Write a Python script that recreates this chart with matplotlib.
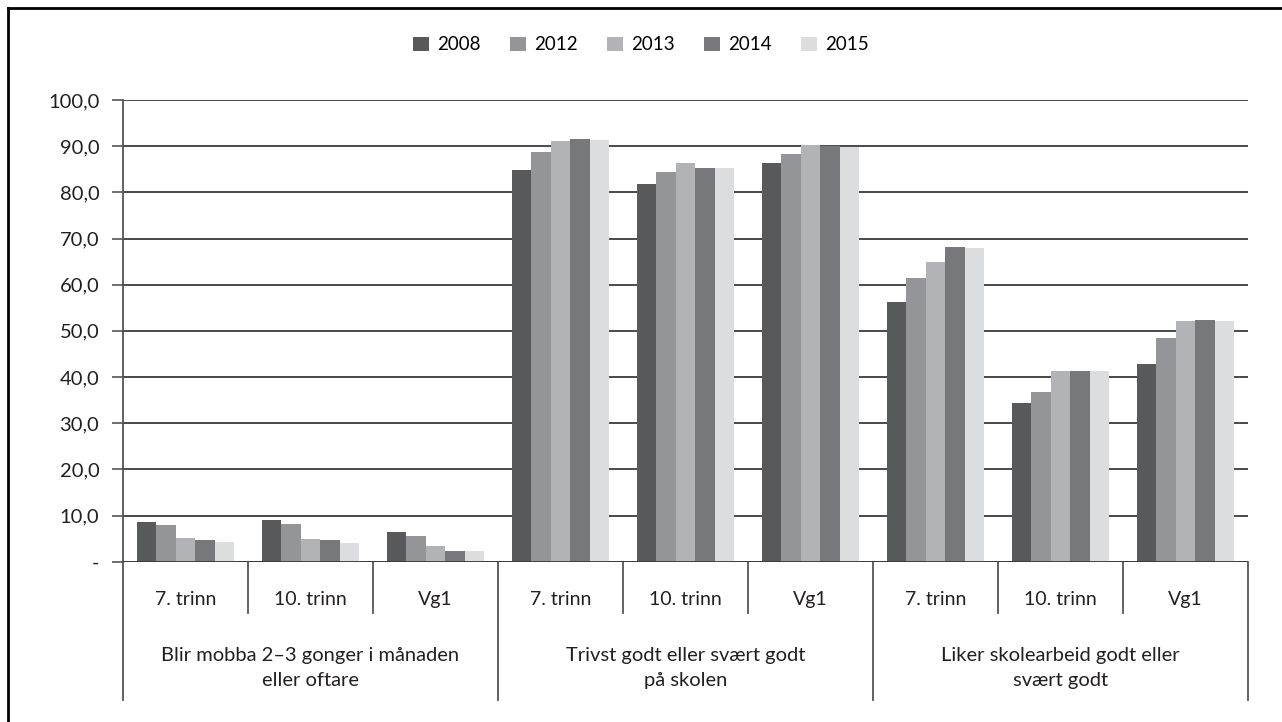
import matplotlib
matplotlib.use("Agg")
import matplotlib.pyplot as plt
import numpy as np
from matplotlib.lines import Line2D
from matplotlib.patches import Patch

plt.rcParams['font.family'] = ['Lato', 'DejaVu Sans']

# Data
years = ["2008", "2012", "2013", "2014", "2015"]
sub_labels = ["7. trinn", "10. trinn", "Vg1"] * 3
group_labels = ["Blir mobba 2\u20133 gonger i månaden\neller oftare",
                "Trivst godt eller svært godt\npå skolen",
                "Liker skolearbeid godt eller\nsvært godt"]
v2008 = [8.7, 9.1, 6.5, 84.9, 81.7, 86.4, 56.3, 34.3, 42.9]
v2012 = [8.0, 8.2, 5.6, 88.8, 84.5, 88.4, 61.4, 36.8, 48.5]
v2013 = [5.2, 5.0, 3.5, 91.2, 86.4, 90.2, 64.9, 41.4, 52.2]
v2014 = [4.8, 4.6, 2.4, 91.6, 85.3, 90.0, 68.2, 41.4, 52.4]
v2015 = [4.3, 4.1, 2.4, 91.4, 85.3, 89.8, 68.0, 41.4, 52.2]
series = [v2008, v2012, v2013, v2014, v2015]
colors = ["#58595b", "#939598", "#b1b3b6", "#77787b", "#dcdddf"]

fig = plt.figure(figsize=(12.82, 7.22), dpi=100)
ax = fig.add_axes([0.0959, 0.222, 0.8777, 0.6395])

x = np.arange(len(sub_labels))
w = 0.156
for i, (vals, c) in enumerate(zip(series, colors)):
    ax.bar(x + (i - 2) * w, vals, width=w, color=c, label=years[i], zorder=3)

ax.set_xlim(-0.5, 8.5)
ax.set_ylim(0, 100)
ax.set_yticks(np.arange(0, 101, 10))
ax.set_yticklabels(["-"] + ["%d,0" % v for v in range(10, 101, 10)])
ax.tick_params(axis='y', length=8, width=1.2, color="#555555", labelsize=14.5,
               pad=9, labelcolor="#231f20")
ax.set_xticks([])
for s in ["top", "right", "bottom", "left"]:
    ax.spines[s].set_visible(False)
ax.yaxis.grid(True, color="#3a3a3a", linewidth=1.3, zorder=1)
ax.axhline(0, color="#3a3a3a", linewidth=1.3, zorder=4)

# category separators and labels
h = 461.7
tr = ax.get_xaxis_transform()
for k in range(10):
    xs = k - 0.5
    depth = 138 if k % 3 == 0 else 51
    ax.add_line(Line2D([xs, xs], [0, -depth / h], transform=tr, color="#555555",
                       linewidth=1.3, clip_on=False))
ax.add_line(Line2D([-0.5, -0.5], [0, 1], transform=tr, color="#555555",
                   linewidth=1.3, clip_on=False))
for k, lab in enumerate(sub_labels):
    ax.text(k, -38 / h, lab, transform=tr, ha="center", va="center",
            fontsize=14, color="#231f20")
for g, lab in enumerate(group_labels):
    ax.text(3 * g + 1, -106 / h, lab, transform=tr, ha="center", va="center",
            fontsize=14.5, color="#231f20", linespacing=1.6)

handles = [Patch(facecolor=c, label=y) for c, y in zip(colors, years)]
fig.legend(handles=handles, loc="center", bbox_to_anchor=(0.5, 1 - 45 / 722),
           ncol=5, frameon=False, fontsize=13.5, handlelength=0.85,
           handleheight=0.85, columnspacing=1.55, handletextpad=0.45)

# outer frame (left and top only)
fig.add_artist(Line2D([8 / 1282, 8 / 1282], [0, 1 - 8 / 722], transform=fig.transFigure,
                      color="black", linewidth=2))
fig.add_artist(Line2D([8 / 1282, 1], [1 - 8 / 722, 1 - 8 / 722], transform=fig.transFigure,
                      color="black", linewidth=2))

fig.savefig("out.png", dpi=100)
